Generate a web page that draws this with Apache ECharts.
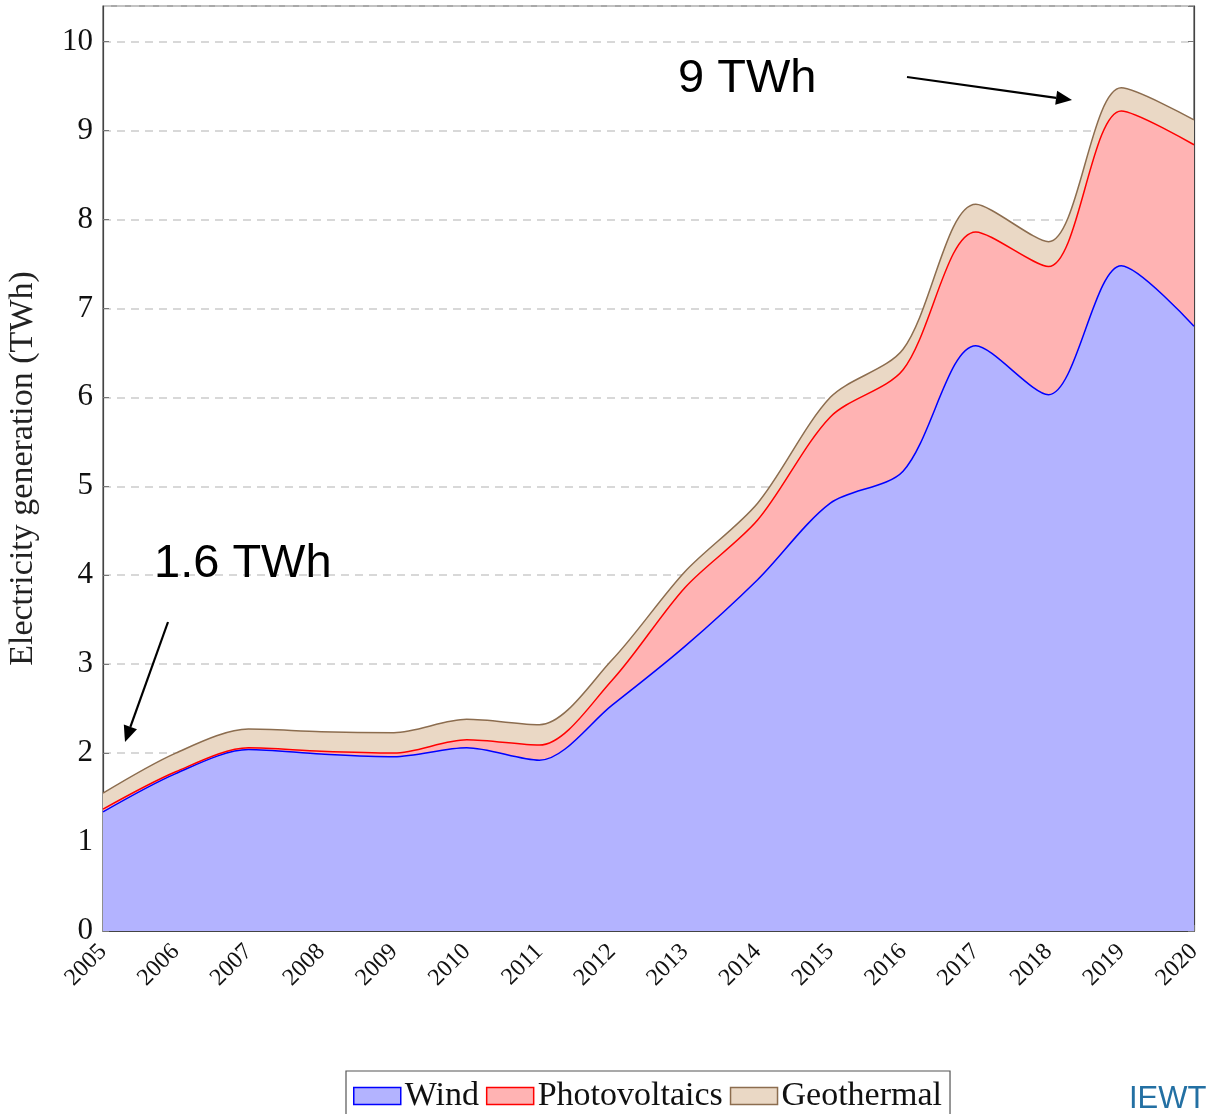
<!DOCTYPE html>
<html>
<head>
<meta charset="utf-8">
<script src="https://cdn.jsdelivr.net/npm/echarts@6/dist/echarts.min.js"></script>
<style>
  html, body { margin: 0; padding: 0; background: #fff; }
  #chart { width: 1217px; height: 1114px; }
</style>
</head>
<body>
<div id="chart"></div>
<script>
// Electricity generation by renewable source (TWh), stacked
const years = ['2005','2006','2007','2008','2009','2010','2011','2012','2013','2014','2015','2016','2017','2018','2019','2020'];
const wind          = [1.34, 1.77, 2.04, 1.99, 1.96, 2.06, 1.92, 2.54, 3.20, 3.95, 4.81, 5.17, 6.58, 6.03, 7.48, 6.80];
const photovoltaics = [0.03, 0.02, 0.02, 0.03, 0.04, 0.09, 0.17, 0.28, 0.66, 0.67, 0.97, 1.14, 1.28, 1.44, 1.74, 2.04];
const geothermal    = [0.18, 0.21, 0.21, 0.22, 0.23, 0.23, 0.23, 0.23, 0.18, 0.19, 0.22, 0.23, 0.31, 0.28, 0.26, 0.28];
const yTicks = [0, 1, 2, 3, 4, 5, 6, 7, 8, 9, 10];

const serif = '"Liberation Serif", "DejaVu Serif", serif';
const sans = '"Liberation Sans", Arial, sans-serif';

const styles = {
  Wind:          { fill: '#b3b3ff', line: '#0000ff' },
  Photovoltaics: { fill: '#ffb3b3', line: '#ff0000' },
  Geothermal:    { fill: '#ead8c5', line: '#8c6d4f' }
};

function areaSeries(name, data) {
  const s = styles[name];
  return {
    name, type: 'line', stack: 'total', data,
    smooth: 0.3, symbol: 'none',
    lineStyle: { color: s.line, width: 1.5 },
    areaStyle: { color: s.fill, opacity: 1 },
    itemStyle: { color: s.fill, borderColor: s.line },
    emphasis: { disabled: true }
  };
}

const chart = echarts.init(document.getElementById('chart'), null, { renderer: 'canvas' });

chart.setOption({
  animation: false,
  backgroundColor: '#fff',
  grid: {
    left: 103, right: 23, top: 6, bottom: 183,
    containLabel: false, outerBoundsMode: 'none',
    show: true, borderColor: '#555', borderWidth: 1.2, backgroundColor: 'transparent'
  },
  xAxis: {
    type: 'category', data: years, boundaryGap: false,
    axisLine: { show: true, lineStyle: { color: '#444', width: 1.2 } },
    axisTick: { show: true, inside: true, length: 6, alignWithLabel: true, lineStyle: { color: '#777' } },
    axisLabel: { rotate: 45, margin: 17, fontFamily: serif, fontSize: 24, color: '#111' },
    splitLine: { show: false }
  },
  yAxis: [{
    type: 'value', min: 0, max: 10.4, interval: 1,
    name: 'Electricity generation (TWh)', nameLocation: 'middle', nameGap: 63,
    nameTextStyle: { fontFamily: serif, fontSize: 34, color: '#222' },
    axisLine: { show: true, lineStyle: { color: '#444', width: 1.2 } },
    axisTick: { show: true, inside: true, length: 6, lineStyle: { color: '#777' } },
    axisLabel: {
      margin: 10, fontFamily: serif, fontSize: 31, color: '#111', showMaxLabel: false,
      formatter: v => (yTicks.indexOf(v) >= 0 ? String(v) : '')
    },
    splitLine: { show: true, lineStyle: { color: '#cccccc', type: [8, 6], width: 1.5 } }
  }, {
    type: 'value', min: 0, max: 10.4, interval: 1, position: 'right',
    axisLine: { show: true, lineStyle: { color: '#444', width: 1.2 } },
    axisTick: { show: true, inside: true, length: 6, lineStyle: { color: '#777' } },
    axisLabel: { show: false },
    splitLine: { show: false }
  }],
  legend: {
    left: 346, top: 1071,
    orient: 'horizontal',
    padding: [8, 8, 14, 7],
    itemGap: 7, itemWidth: 47, itemHeight: 17,
    borderColor: '#555', borderWidth: 1.2,
    icon: 'rect',
    textStyle: { fontFamily: serif, fontSize: 34, color: '#111', padding: [0, 0, 0, -1] },
    data: Object.keys(styles).map(n => ({
      name: n,
      itemStyle: { color: styles[n].fill, borderColor: styles[n].line, borderWidth: 1.5 }
    }))
  },
  series: [
    areaSeries('Wind', wind),
    areaSeries('Photovoltaics', photovoltaics),
    areaSeries('Geothermal', geothermal)
  ]
});

// Call-out texts with arrows, plus the source tag
function arrow(x1, y1, x2, y2) {
  const ang = Math.atan2(y2 - y1, x2 - x1);
  const L = 16, W = 7;
  const bx = x2 - L * Math.cos(ang), by = y2 - L * Math.sin(ang);
  const px = -Math.sin(ang) * W, py = Math.cos(ang) * W;
  return [
    { type: 'line', shape: { x1, y1, x2: bx, y2: by }, style: { stroke: '#000', lineWidth: 2.2 } },
    { type: 'polygon', shape: { points: [[x2, y2], [bx + px, by + py], [bx - px, by - py]] }, style: { fill: '#000' } }
  ];
}

chart.setOption({
  graphic: [
    { type: 'text', left: 678, top: 56, style: { text: '9 TWh', font: '47px ' + sans, fill: '#000' } },
    { type: 'text', left: 154, top: 541, style: { text: '1.6 TWh', font: '47px ' + sans, fill: '#000' } },
    ...arrow(907, 77, 1072, 100),
    ...arrow(168, 622, 125, 742),
    { type: 'text', left: 1129, top: 1084, style: { text: 'IEWT', font: '31px ' + sans, fill: '#2370a3' } }
  ]
});
</script>
</body>
</html>
